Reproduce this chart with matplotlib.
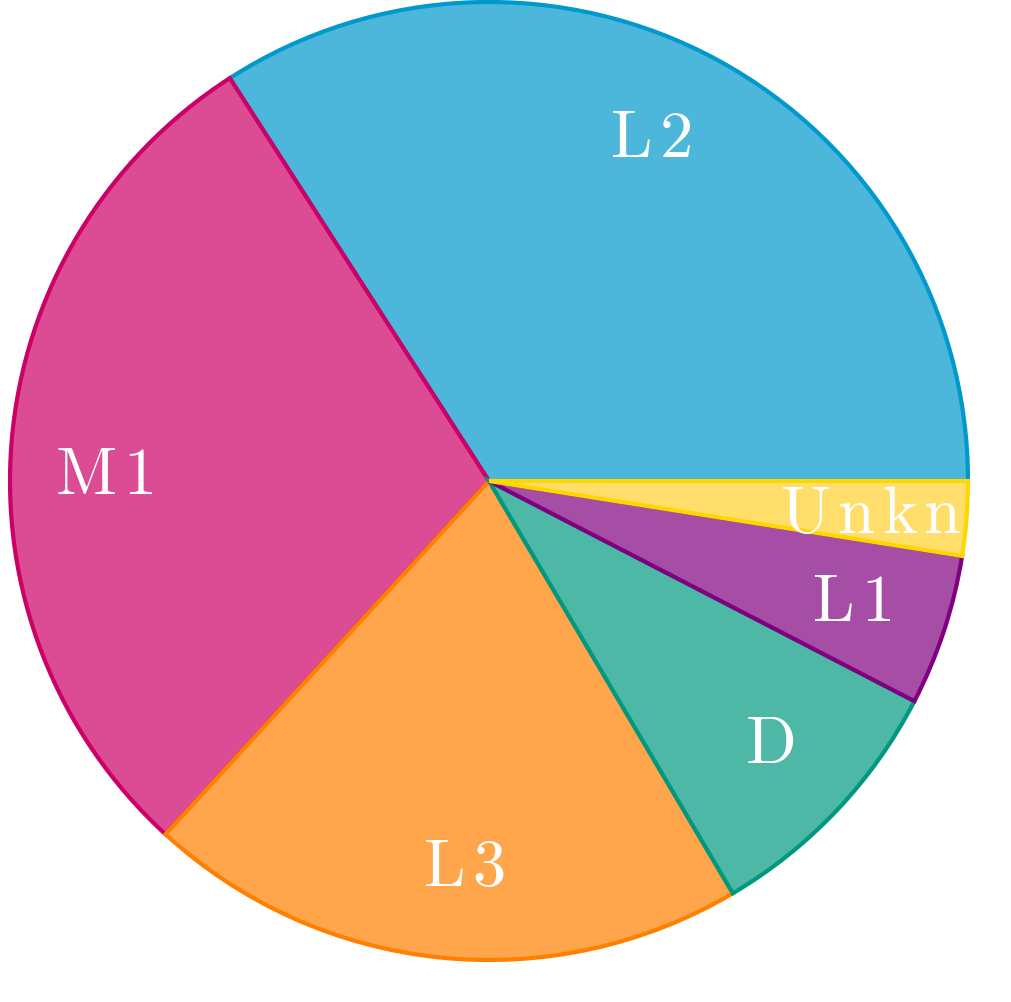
import numpy as np
import matplotlib.pyplot as plt

# slice shares in percent, counterclockwise from east
labels = ["L2", "M1", "L3", "D", "L1", "Unkn"]
values = [34.1, 29.1, 20.3, 8.9, 5.1, 2.5]
fills = ["#4DB6DB", "#DB4C94", "#FFA64D", "#4DB8A6", "#A64DA6", "#FFDE6B"]
edges = ["#0099CC", "#CC0066", "#FF8000", "#009980", "#800080", "#FFD700"]
# where the label sits, degrees counterclockwise from east
label_angles = [64.8, 178.5, 266.4, 317.5, 342.2, 355.6]


def plot_pie():
    fig = plt.figure(figsize=(10.12, 10.02), dpi=100)
    ax = fig.add_axes([0, 0, 1, 1])

    cx, cy, r = 489, 521, 479
    wedges, _ = ax.pie(values, colors=fills, startangle=0, counterclock=True,
                       radius=r, center=(cx, cy), frame=True,
                       wedgeprops=dict(linewidth=3))
    for w, ec in zip(wedges, edges):
        w.set_edgecolor(ec)
        w.set_joinstyle("miter")
    ax.set_xlim(0, 1012)
    ax.set_ylim(0, 1002)
    ax.set_aspect("equal")
    ax.axis("off")

    # labels: one text per letter so the letters can be spread a bit
    # (axes units are pixels here)
    fs = 48
    cap = 0.683 * fs * 100 / 72
    track = 7
    renderer = fig.canvas.get_renderer()
    for lab, ang in zip(labels, label_angles):
        a = np.deg2rad(ang)
        x = cx + 0.8 * r * np.cos(a)
        y = cy + 0.8 * r * np.sin(a)
        chars = [ax.text(0, 0, ch, color="white", fontsize=fs, family="cmr10",
                         ha="left", va="baseline") for ch in lab]
        widths = [t.get_window_extent(renderer).width for t in chars]
        total = sum(widths) + track * (len(chars) - 1)
        px = x - total / 2
        for t, wd in zip(chars, widths):
            t.set_position((px, y - cap / 2))
            px += wd + track

    fig.savefig("out.png", dpi=100)


if __name__ == "__main__":
    plot_pie()
